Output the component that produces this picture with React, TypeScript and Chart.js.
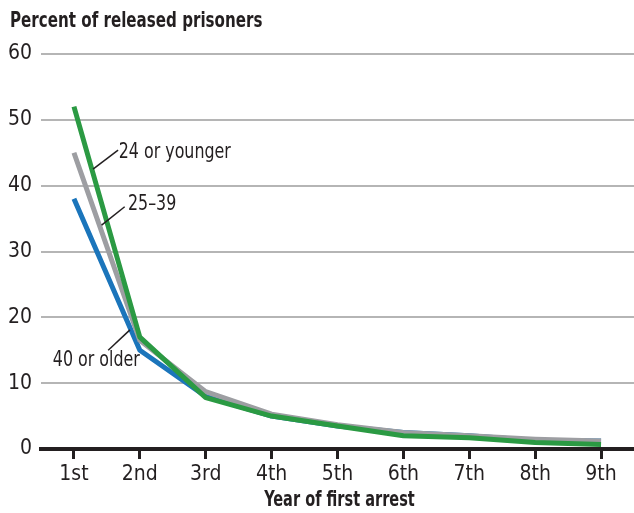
import React, { useEffect, useRef } from "react";
import { Chart, registerables } from "chart.js";

Chart.register(...registerables);

const categories = ["1st", "2nd", "3rd", "4th", "5th", "6th", "7th", "8th", "9th"];
const young = [52, 17, 7.8, 5, 3.5, 2, 1.7, 1, 0.7];
const middle = [45, 16.5, 8.7, 5.3, 3.7, 2.5, 2, 1.5, 1.2];
const older = [38, 15, 8, 5, 3.5, 2.5, 2, 1.3, 1.2];
const yTicks = [0, 10, 20, 30, 40, 50, 60];

const titleText = "Percent of released prisoners";
const xTitleText = "Year of first arrest";
const seriesNames = ["24 or younger", "25\u201339", "40 or older"];

// label placement in data units: [x index, y value]
const labelAnchors = [
  { text: seriesNames[0], from: [0.29, 42.5], to: [0.67, 45.4], at: [0.68, 45.1] },
  { text: seriesNames[1], from: [0.42, 34.0], to: [0.77, 36.8], at: [0.82, 37.1] },
  { text: seriesNames[2], from: [0.85, 18.1], to: [0.52, 15.0], at: [-0.32, 13.4] },
];

const FONT = "'Liberation Sans Narrow', 'DejaVu Sans Condensed', 'Roboto Condensed', sans-serif";
const INK = "#231f20";
const CONDENSE = 0.84;

function drawCondensed(ctx: any, text: string, x: number, y: number, sx: number, align: string) {
  ctx.save();
  ctx.translate(x, y);
  ctx.scale(sx, 1);
  ctx.textAlign = align;
  ctx.textBaseline = "middle";
  ctx.fillText(text, 0, 0);
  ctx.restore();
}

export default function App() {
  const ref = useRef<HTMLCanvasElement | null>(null);

  useEffect(() => {
    const canvas = ref.current;
    if (!canvas) return;

    const annot = {
      id: "annot",
      afterDatasetsDraw(chart: any) {
        const ctx = chart.ctx;
        const xs = chart.scales.x;
        const ys = chart.scales.y;
        const px = (i: number) => xs.getPixelForValue(0) + i * (xs.getPixelForValue(1) - xs.getPixelForValue(0));
        const py = (v: number) => ys.getPixelForValue(v);
        ctx.save();
        ctx.strokeStyle = INK;
        ctx.lineWidth = 1.5;
        ctx.fillStyle = INK;
        ctx.font = `21px ${FONT}`;
        for (const a of labelAnchors) {
          ctx.beginPath();
          ctx.moveTo(px(a.from[0]), py(a.from[1]));
          ctx.lineTo(px(a.to[0]), py(a.to[1]));
          ctx.stroke();
          drawCondensed(ctx, a.text, px(a.at[0]), py(a.at[1]), CONDENSE, "left");
        }
        ctx.font = `bold 21px ${FONT}`;
        drawCondensed(ctx, titleText, 10, 22, 0.8, "left");
        const ca = chart.chartArea;
        drawCondensed(ctx, xTitleText, (ca.left + ca.right) / 2 + 2, 501, 0.77, "center");
        ctx.restore();
      },
    };

    const chart = new Chart(canvas, {
      type: "line",
      data: {
        labels: categories,
        datasets: [
          { label: seriesNames[0], data: young, borderColor: "#2b9a43", order: 1 },
          { label: seriesNames[1], data: middle, borderColor: "#9d9ea2", order: 2 },
          { label: seriesNames[2], data: older, borderColor: "#1b75bb", order: 3 },
        ].map((d) => ({
          ...d,
          borderWidth: 5,
          pointRadius: 0,
          tension: 0,
          fill: false,
          borderJoinStyle: "round" as const,
          borderCapStyle: "butt" as const,
        })),
      },
      plugins: [annot],
      options: {
        responsive: false,
        animation: false,
        devicePixelRatio: 1,
        layout: { padding: { top: 54, left: 0, right: 0, bottom: 0 } },
        plugins: {
          legend: { display: false },
          tooltip: { enabled: false },
          title: { display: false },
        },
        scales: {
          x: {
            type: "category",
            offset: true,
            grid: {
              display: true,
              drawOnChartArea: false,
              drawTicks: true,
              tickLength: 10,
              color: INK,
              lineWidth: 3,
            },
            border: { display: true, color: INK, width: 4 },
            ticks: {
              color: INK,
              font: { family: FONT, size: 21 },
              padding: 3,
              maxRotation: 0,
              autoSkip: false,
            },
            title: { display: false },
            afterFit: (s: any) => {
              s.height = 64;
            },
          },
          y: {
            min: 0,
            max: 60,
            afterBuildTicks: (s: any) => {
              s.ticks = yTicks.map((v) => ({ value: v }));
            },
            grid: {
              display: true,
              drawTicks: false,
              color: "#b5b5b5",
              lineWidth: 2,
            },
            border: { display: false },
            ticks: {
              color: INK,
              font: { family: FONT, size: 21 },
              padding: 9,
            },
            afterFit: (s: any) => {
              s.width = 41;
            },
          },
        },
      },
    });
    return () => chart.destroy();
  }, []);

  return (
    <div style={{ position: "fixed", left: 0, top: 0, width: 634, height: 513, background: "#fff" }}>
      <canvas ref={ref} width={634} height={513} style={{ width: 634, height: 513, display: "block" }} />
    </div>
  );
}
